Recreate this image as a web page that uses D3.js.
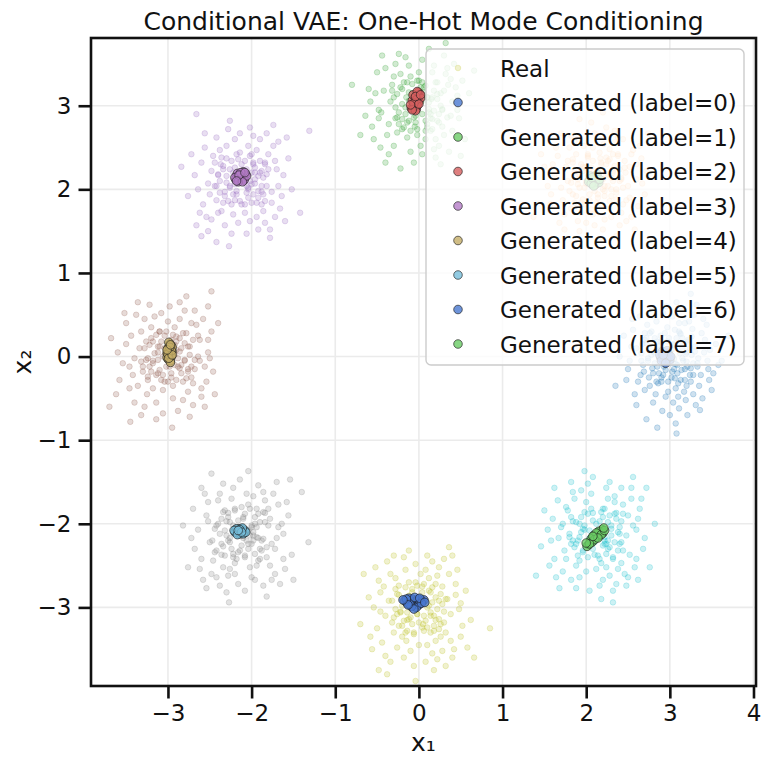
<!DOCTYPE html>
<html>
<head>
<meta charset="utf-8">
<script src="https://cdn.jsdelivr.net/npm/d3@7"></script>
<style>
  html, body { margin: 0; padding: 0; background: #fff; }
  svg { display: block; font-family: "DejaVu Sans", sans-serif; }
</style>
</head>
<body>
<svg id="chart" width="770" height="766"></svg>
<script>
// ---------------- DATA ----------------
const title = "Conditional VAE: One-Hot Mode Conditioning";
const xLabel = "x\u2081";
const yLabel = "x\u2082";
const xTicks = [-3, -2, -1, 0, 1, 2, 3, 4];
const yTicks = [-3, -2, -1, 0, 1, 2, 3];

// Real data mode centres (x1, x2) and colours (tab10 via label)
const modeCenters = [[3.0, 0.0], [2.12, 2.12], [0.0, 3.0], [-2.12, 2.12], [-3.0, 0.0], [-2.12, -2.12], [0.0, -3.0], [2.12, -2.12]];
const realColors = ["#1f77b4", "#ff7f0e", "#2ca02c", "#9467bd", "#8c564b", "#7f7f7f", "#bcbd22", "#17becf"];

// Real samples: offsets from each mode centre, in hundredths (outer spread)
const realMode0 = [[-12,8],[25,-30],[4,15],[-35,-22],[18,40],[-5,-48],[30,12],[-22,30],[9,-10],[45,-5],[-40,10],[2,-25],[15,22],[-18,-8],[28,-45],[-8,52],[38,28],[-30,-40],[11,-62],[-50,-15],[20,5],[-3,35],[52,-20],[-15,18],[7,-38],[33,-12],[-26,-2],[14,58],[-44,32],[24,-22],[-10,-30],[40,45],[0,-70],[-33,15],[19,-52],[-6,3],[27,33],[-20,-55],[48,8],[-38,-30],[12,28],[5,-15],[-16,42],[35,-35],[-48,-5],[22,18],[-2,-42],[58,-10],[-28,22],[8,65],[31,-58],[-13,-20],[42,20],[-55,25],[16,-5],[-24,-35],[3,48],[50,-40],[-9,-65],[26,2],[-36,48],[13,-28],[-19,5],[37,-22],[-1,22],[44,38],[-42,-45],[21,-70],[-7,-12],[29,50],[-31,-18],[6,32],[55,15],[-17,-45],[10,-48],[-46,12],[34,-2],[-4,60],[18,-15],[-27,38],[47,-28],[-14,-32],[23,42],[-52,-28],[1,-8],[39,-50],[-21,58],[15,10],[-34,-5],[62,-5],[-11,25],[28,-8],[-40,-58],[7,-80],[-60,0],[32,62],[-25,-25],[11,40],[46,-15],[-8,-22],[20,-35],[-30,28],[4,-55],[41,5],[-45,45],[17,-42],[70,25],[-65,-35],[25,75],[-15,-85],[-28,-75],[8,-92],[36,-64]];
const realMode1 = [[10,-14],[-28,20],[35,8],[-6,-36],[22,44],[-42,-10],[5,25],[30,-40],[-18,-28],[48,18],[-32,38],[14,-8],[-2,55],[40,-22],[-50,5],[26,30],[-12,-52],[18,-20],[-38,-42],[55,-5],[-8,12],[32,48],[-22,0],[8,-60],[44,35],[-46,28],[2,-18],[28,-55],[-15,40],[38,-8],[-28,-18],[12,62],[-55,-30],[20,10],[-4,-42],[50,-32],[-36,15],[16,36],[-20,-62],[34,22],[-10,28],[60,10],[-44,-52],[6,-30],[24,-12],[-30,52],[42,-45],[-14,-10],[9,42],[-52,18],[36,-25],[-24,30],[0,-8],[52,40],[-40,-25],[18,-45],[-6,68],[30,2],[-58,-8],[14,22],[-18,-40],[46,-60],[-34,-2],[22,58],[-8,-25],[40,15],[-26,45],[4,-72],[58,-18],[-48,38],[12,5],[-16,15],[32,-30],[-38,-60],[26,50],[-4,38],[48,0],[-30,-35],[10,-48],[-62,15],[20,30],[-12,-5],[36,-50],[-42,55],[6,18],[28,-2],[-22,-50],[54,25],[-54,-18],[16,-35],[-2,-55],[42,30],[-34,22],[24,-68],[-66,30],[70,-30],[-20,72],[8,80],[-75,-45],[62,55]];
const realMode2 = [[-15,10],[22,-18],[-30,35],[8,-40],[-45,-8],[35,25],[-5,-25],[18,48],[-38,-35],[28,-5],[-20,20],[4,55],[-52,15],[40,-30],[-10,-55],[15,8],[-28,-15],[46,12],[-2,30],[-40,45],[24,-48],[-16,-2],[32,38],[-56,-25],[10,-22],[-24,62],[38,-12],[-8,15],[20,-62],[-34,5],[52,30],[-14,-38],[6,22],[-46,-50],[30,-35],[-22,38],[12,-8],[-60,20],[42,50],[-4,-12],[26,15],[-36,-58],[16,40],[-48,-5],[2,-48],[36,-55],[-26,-32],[48,-15],[-12,48],[22,28],[-42,18],[8,-30],[-30,-48],[55,-40],[-18,28],[30,60],[-6,-68],[14,-15],[-50,40],[40,5],[-24,-8],[0,40],[-64,-12],[28,-25],[-16,58],[44,22],[-36,-22],[18,-52],[-8,2],[34,45],[-54,-40],[10,10],[-20,-28],[50,-60],[-44,60],[24,-10],[-2,-35],[60,15],[-32,25],[12,68],[-40,-68],[20,-40],[-12,-18],[38,32],[-58,5],[4,-58],[26,-70],[-28,50],[46,-5],[-10,35],[-70,-35],[66,42],[-22,-75],[32,75],[-80,25],[8,85],[-48,-15],[16,-28]];
const realMode3 = [[8,-12],[-25,18],[30,-8],[-12,-30],[18,35],[-40,-5],[4,22],[26,-38],[-30,-25],[42,12],[-18,40],[10,-50],[-48,20],[22,8],[-6,-18],[36,-28],[-28,5],[14,52],[-36,-48],[48,-20],[-2,32],[20,-22],[-44,38],[32,30],[-14,-8],[6,-65],[-52,-12],[28,20],[-20,-55],[40,-45],[-8,48],[16,-5],[-34,28],[50,5],[-24,-38],[2,10],[34,-60],[-46,-30],[12,30],[-16,60],[38,40],[-56,5],[24,-15],[-10,-42],[44,-8],[-30,50],[0,-30],[56,25],[-40,-62],[18,-45],[-22,12],[30,55],[-50,-40],[8,40],[-4,-52],[46,-35],[-32,-8],[14,18],[-26,35],[36,-15],[-60,30],[22,48],[-12,-65],[40,22],[-38,-18],[6,-8],[28,-52],[-18,25],[52,-50],[-44,55],[16,8],[-8,-25],[32,12],[-54,-55],[10,62],[-28,-40],[44,45],[-2,55],[24,-30],[-36,10],[60,-12],[-20,-15],[4,-40],[-48,-68],[34,-70],[-14,70],[20,-60],[-64,-20],[54,50],[-6,5],[26,2],[-42,-45],[12,-28],[70,-40],[-72,15],[-54,78],[81,58],[-15,-80],[38,65],[-30,-75]];
const realMode4 = [[-10,12],[24,-15],[-32,30],[6,-35],[-18,-5],[38,20],[-42,-22],[14,45],[-25,-45],[30,-32],[-4,25],[48,5],[-50,15],[18,-52],[-12,-20],[34,38],[-38,50],[10,8],[-28,-60],[44,-12],[-6,-40],[22,28],[-46,-38],[2,60],[28,-25],[-20,35],[52,30],[-54,-8],[16,-10],[-14,-55],[40,-48],[-34,10],[8,35],[-24,-28],[36,0],[-2,-12],[20,55],[-44,25],[46,-30],[-16,48],[26,12],[-58,-28],[12,-65],[-30,-12],[42,45],[-8,52],[30,-58],[-40,-55],[4,-25],[54,-18],[-22,62],[14,22],[-50,40],[38,-5],[-12,5],[24,-42],[-36,-35],[0,42],[48,20],[-26,18],[18,-30],[-60,5],[32,55],[-6,-68],[40,-38],[-46,-12],[10,18],[-18,-38],[28,40],[-32,-70],[56,-45],[-10,30],[20,-5],[-52,52],[6,-50],[36,25],[-28,45],[44,-60],[-40,-2],[14,65],[-4,-30],[26,-72],[-62,-45],[60,40],[-20,-18],[8,2],[-36,65],[32,-15],[-14,-75],[50,-2],[-68,22],[48,60],[-45,-78],[22,72],[-24,-2],[12,-12],[52,78],[-70,-60],[5,-85]];
const realMode5 = [[12,8],[-22,-15],[28,25],[-8,30],[-35,-8],[40,-18],[-14,-42],[20,-32],[-42,22],[6,48],[32,10],[-28,40],[16,-55],[-48,-30],[44,35],[-2,-20],[24,-8],[-18,15],[52,-42],[-36,-48],[8,-12],[-10,55],[36,-55],[-52,5],[18,30],[-24,-25],[48,12],[-4,-60],[30,-28],[-40,38],[14,-2],[-16,-50],[38,48],[-56,-18],[2,20],[26,-62],[-30,10],[56,22],[-8,-35],[20,58],[-46,-55],[42,-5],[-20,28],[10,-40],[-34,-32],[34,-38],[-12,42],[50,0],[-26,-62],[4,-28],[-44,48],[28,40],[-6,8],[46,-60],[-38,-10],[16,12],[-22,60],[60,-25],[-50,-42],[12,-52],[-14,-5],[32,30],[-58,30],[22,-18],[-2,65],[40,-48],[-32,-22],[8,35],[-18,-70],[54,38],[-40,15],[18,-38],[-26,48],[44,8],[-8,-48],[26,50],[-60,-5],[36,-12],[-16,25],[4,-68],[50,-30],[-30,-52],[14,45],[-48,55],[62,-55],[-10,-28],[30,-75],[-64,-40],[42,62],[-22,-40],[72,50],[-70,10],[8,75],[-36,72],[58,65],[-15,-82],[80,-10],[20,-5],[-42,-65],[34,18]];
const realMode6 = [[-8,10],[20,-15],[-28,22],[12,35],[-40,-10],[32,-30],[-15,-40],[5,-20],[44,15],[-34,40],[24,48],[-50,-25],[16,-55],[-22,-5],[38,-8],[-4,52],[28,25],[-46,18],[10,-45],[-18,-60],[50,-35],[-30,-30],[6,8],[-12,30],[36,40],[-54,0],[22,-62],[-6,-32],[42,-50],[-38,55],[14,18],[-26,-48],[48,-2],[-2,-8],[30,58],[-44,-42],[18,-28],[-16,45],[56,20],[-36,8],[8,-65],[26,-20],[-48,32],[2,40],[-20,-22],[40,-60],[-30,62],[12,2],[-58,-35],[34,10],[-10,-52],[46,45],[-24,15],[20,-40],[-40,-58],[4,25],[52,-22],[-14,-15],[28,-52],[-52,48],[16,55],[-6,-70],[38,-40],[-32,-18],[10,62],[-46,-5],[24,8],[-18,60],[58,-48],[-28,35],[0,-45],[44,28],[-56,-50],[14,-10],[-8,18],[32,-70],[-42,25],[22,38],[-20,-35],[50,5],[-34,-65],[6,-28],[40,62],[-60,12],[18,-75],[-12,68],[62,-15],[-26,-8],[30,-5],[-48,-75],[8,45],[66,-60],[-66,40],[36,72],[-38,-80],[85,-25],[-4,-88],[26,-35],[-16,-30],[-70,-20]];
const realMode7 = [[10,-8],[-18,20],[30,15],[-30,-12],[6,-35],[40,-25],[-12,38],[22,45],[-42,8],[16,-50],[-24,-38],[48,5],[-4,25],[34,-48],[-50,-30],[12,55],[-16,-20],[28,-12],[-36,32],[4,-62],[52,30],[-28,50],[20,-30],[-8,-5],[42,42],[-54,-8],[24,-60],[-20,-52],[36,-2],[-40,-45],[8,30],[46,-40],[-10,60],[-32,0],[18,10],[-46,40],[56,-18],[0,-42],[30,55],[-24,-65],[14,-18],[-52,18],[38,22],[-6,48],[26,-42],[-38,-20],[50,-55],[-14,5],[8,-55],[44,10],[-30,62],[-48,-52],[22,38],[-2,-25],[36,-62],[-58,5],[16,62],[-20,-32],[54,42],[-34,28],[4,15],[32,-20],[-44,-65],[12,-40],[-12,-45],[48,-30],[-26,42],[28,0],[-56,-38],[20,-68],[-4,68],[42,55],[-40,12],[10,-12],[-18,52],[58,-5],[-30,-55],[24,25],[-62,28],[38,-52],[-8,-68],[14,42],[-22,-8],[50,18],[-50,55],[30,-35],[-36,-30],[64,-40],[6,-78],[-66,-15],[44,68],[-14,75],[70,12],[-72,-50],[20,-82],[-28,15],[2,4],[32,35],[-45,-5],[60,55]];

// Real samples: dense cores of each mode, offsets in hundredths
const realCore0 = [[5,-3],[-8,10],[12,4],[-15,-12],[20,-6],[-3,18],[9,-20],[-22,2],[16,15],[-10,-25],[2,8],[25,-14],[-18,22],[7,-9],[-26,-5],[13,27],[-5,-16],[30,6],[-12,5],[18,-28],[-28,16],[0,-4],[22,20],[-20,-20],[10,-32],[-6,28],[28,-22],[-32,-10],[4,14],[15,-2],[-14,12],[-2,-30],[24,10],[-24,28],[8,22],[-9,-7],[33,-8],[-16,-30],[19,3],[-30,20],[3,-18],[11,30],[-21,-14],[26,24],[-7,0],[14,-16],[-34,4],[6,-26],[-11,18],[21,-12]];
const realCore1 = [[-4,6],[10,-8],[-14,14],[18,2],[-20,-10],[6,20],[-8,-18],[24,-16],[-26,8],[12,26],[2,-6],[-16,-24],[28,12],[-10,30],[16,-26],[-30,-4],[8,-12],[-4,22],[20,-2],[-18,18],[0,-28],[26,28],[-24,-20],[14,6],[-12,-2],[32,-10],[-6,14],[10,-20],[-28,24],[22,16],[4,32],[-20,4],[18,-12],[-14,-30],[6,10],[-32,-14],[30,0],[-2,-14],[12,18],[-22,-6],[8,0],[-10,26],[24,-24],[-16,10],[2,-22],[16,24],[-26,-28],[34,14],[-8,-4],[20,8]];
const realCore2 = [[3,5],[-9,-6],[14,-10],[-12,16],[8,24],[-20,2],[22,8],[-4,-20],[10,-26],[-26,-14],[18,18],[-14,28],[4,-10],[-6,12],[28,-4],[-18,-26],[12,4],[-30,10],[0,30],[24,-20],[-10,-2],[16,-16],[-22,22],[6,16],[-2,-28],[30,18],[-28,-2],[20,28],[-16,-10],[10,10],[-6,-14],[26,0],[-12,6],[14,-30],[-24,-22],[2,22],[18,-6],[-32,18],[8,-18],[-8,26],[22,14],[-20,-16],[34,-14],[-4,2],[12,-4],[-14,-20],[4,28],[-26,14],[16,10],[-10,-30]];
const realCore3 = [[4,2],[-10,8],[12,-6],[-6,-14],[16,14],[-18,-4],[8,-22],[-22,16],[20,4],[-4,24],[14,-18],[-26,-16],[2,-4],[24,-8],[-12,22],[10,28],[-16,-26],[28,18],[-28,6],[6,12],[-8,-6],[18,-28],[-20,-20],[0,18],[22,22],[-30,-8],[12,8],[-2,-26],[26,-18],[-14,12],[8,-10],[-24,26],[30,6],[-10,-18],[16,0],[-6,30],[20,-14],[-32,20],[4,-30],[-18,4],[14,20],[-8,14],[24,10],[-22,-28],[10,-2],[-14,-10],[2,10],[28,-26],[-26,-2],[6,-16]];
const realCore4 = [[-3,4],[8,-10],[-12,12],[14,6],[-18,-8],[4,20],[-6,-22],[20,-4],[-22,14],[10,24],[-10,-16],[24,12],[-26,-4],[0,-30],[16,-20],[-14,26],[6,2],[-30,-18],[28,-12],[-4,10],[12,-2],[-20,22],[18,28],[-8,-28],[22,-26],[-16,4],[2,-12],[26,2],[-24,-24],[8,14],[-2,30],[30,20],[-28,10],[14,-14],[-12,-4],[4,-20],[-18,18],[20,16],[-6,0],[10,-28],[-32,-6],[24,-18],[-10,30],[16,10],[-22,-12],[6,26],[-14,-22],[32,-4],[0,6],[-8,18]];
const realCore5 = [[2,-5],[-8,6],[12,10],[-14,-10],[18,-4],[-4,16],[8,-18],[-20,4],[22,14],[-10,-24],[4,24],[-24,-12],[16,-24],[-16,20],[26,-6],[0,-14],[-28,12],[10,30],[-6,-30],[20,24],[-18,-2],[14,2],[-2,8],[28,14],[-22,26],[6,-8],[-12,-18],[24,-20],[-30,-20],[12,-12],[-8,28],[18,8],[-26,0],[2,18],[30,-16],[-14,14],[8,4],[-4,-22],[22,-30],[-20,-26],[16,20],[-32,6],[10,-2],[-10,10],[26,26],[-16,-8],[4,-26],[-24,18],[14,-8],[0,32]];
const realCore6 = [[-4,-3],[9,8],[-12,-14],[14,-6],[-18,10],[4,18],[-8,-20],[20,12],[-22,-6],[10,-24],[-2,26],[24,-14],[-26,16],[16,24],[-14,-28],[6,-10],[28,4],[-10,6],[18,-22],[-30,-12],[2,12],[-16,24],[22,-2],[-6,-30],[12,20],[-24,-22],[30,-18],[-20,2],[8,-16],[-4,30],[26,16],[-28,-2],[14,-30],[-12,14],[0,-18],[20,28],[-18,-16],[10,0],[-8,22],[24,-26],[-32,8],[4,-24],[16,6],[-14,-6],[32,10],[-24,26],[6,28],[-10,-12],[18,-10],[-2,-8]];
const realCore7 = [[5,4],[-8,-8],[12,-12],[-14,10],[18,6],[-4,-18],[8,20],[-20,-4],[22,-10],[-10,24],[2,-26],[-24,14],[16,22],[-16,-22],[26,-20],[0,12],[-28,-8],[10,-4],[-6,30],[20,-28],[-18,2],[14,14],[-2,-10],[28,8],[-22,-26],[6,26],[-12,-14],[24,18],[-30,20],[12,-24],[-8,4],[18,-2],[-26,-16],[4,-30],[30,-10],[-14,26],[8,-14],[-4,16],[22,24],[-20,12],[16,-16],[-32,-4],[10,30],[-10,-28],[26,2],[-16,6],[2,2],[-24,-12],[14,-8],[32,24]];

const realModes = [
  realMode0.concat(realCore0), realMode1.concat(realCore1), realMode2.concat(realCore2), realMode3.concat(realCore3),
  realMode4.concat(realCore4), realMode5.concat(realCore5), realMode6.concat(realCore6), realMode7.concat(realCore7)
];

// Generated samples per conditioning label: clump centre and offsets (hundredths)
const genLabels = ["Generated (label=0)", "Generated (label=1)", "Generated (label=2)", "Generated (label=3)", "Generated (label=4)", "Generated (label=5)", "Generated (label=6)", "Generated (label=7)"];
const genColors = ["#4878CF", "#6ACC65", "#D65F5F", "#B47CC7", "#C4AD66", "#77BEDB", "#4878CF", "#6ACC65"];
const genCenters = [[2.94, 0.0], [2.09, 2.11], [-0.04, 3.04], [-2.13, 2.15], [-2.98, 0.05], [-2.14, -2.09], [-0.06, -2.93], [2.11, -2.15]];
const gen0 = [[0,0],[3,-2],[-4,3],[2,5],[-2,-4],[5,1],[-5,-1],[1,-6],[4,4],[-3,6],[6,-4],[-6,2],[0,3],[2,-3],[-1,-1],[3,7],[-4,-5],[7,0],[-2,2],[1,-8]];
const gen1 = [[0,0],[-3,2],[4,-3],[2,4],[-2,-5],[5,2],[-5,0],[1,-6],[3,5],[-4,5],[6,-3],[-6,-2],[0,4],[2,-2],[-1,1],[4,7],[-3,-4],[7,1],[-2,3],[0,-7]];
const gen2 = [[0,0],[2,4],[-2,-3],[3,8],[-3,-6],[4,1],[-1,6],[1,-8],[5,10],[-4,2],[2,-4],[-5,-7],[3,12],[0,-10],[6,5],[-3,9],[1,3],[-2,-1],[4,-2],[-4,-9],[2,13],[0,7],[-6,-3],[6,9]];
const gen3 = [[0,0],[3,2],[-3,-2],[5,-1],[-5,1],[2,4],[-2,-4],[6,3],[-6,-3],[1,-3],[-1,3],[4,-4],[-4,4],[7,1],[-7,-1],[3,6],[-3,-6],[0,5],[2,-6],[-2,2],[5,5],[-5,-5]];
const gen4 = [[0,0],[1,4],[-1,-4],[2,8],[-2,-8],[3,1],[-3,-1],[0,10],[1,-10],[-2,5],[2,-5],[3,6],[-3,-6],[-1,12],[1,-12],[2,2],[-2,-2],[0,6],[-1,-7],[3,-3],[-3,3],[1,9]];
const gen5 = [[0,0],[3,1],[-3,-1],[5,-2],[-5,2],[2,3],[-2,-3],[6,1],[-6,-1],[1,-3],[-1,3],[4,-3],[-4,3],[7,-1],[-7,1],[3,4],[-3,-4],[0,2],[2,-1],[-2,1]];
const gen6 = [[0,0],[4,1],[-4,-1],[8,2],[-8,-2],[2,-3],[-2,3],[10,0],[-11,1],[6,-4],[-6,4],[12,2],[3,-7],[-3,-6],[5,3],[-5,-3],[1,5],[9,-2],[-9,3],[0,-9],[7,4],[-7,-4],[13,-1],[-13,2]];
const gen7 = [[0,0],[3,3],[-3,-3],[6,5],[-6,-6],[8,8],[-8,-10],[2,-1],[-2,1],[5,1],[-5,-3],[9,4],[-10,-12],[4,6],[-4,-7],[1,4],[-1,-4],[7,2],[-7,-9],[11,7],[3,-2],[-3,0],[10,10],[-11,-8]];
const genOffsets = [gen0, gen1, gen2, gen3, gen4, gen5, gen6, gen7];

// ---------------- LAYOUT ----------------
const plot = { left: 91, right: 756, top: 38, bottom: 686 };
const svg = d3.select("#chart");

const x = d3.scaleLinear().domain([-3.92, 4.03]).range([plot.left, plot.right]);
const y = d3.scaleLinear().domain([-3.94, 3.81]).range([plot.bottom, plot.top]);

// grid
const grid = svg.append("g");
grid.selectAll("line.gx").data(xTicks).join("line")
  .attr("x1", d => x(d)).attr("x2", d => x(d))
  .attr("y1", plot.top).attr("y2", plot.bottom)
  .attr("stroke", "#ebebeb").attr("stroke-width", 1.6);
grid.selectAll("line.gy").data(yTicks).join("line")
  .attr("y1", d => y(d)).attr("y2", d => y(d))
  .attr("x1", plot.left).attr("x2", plot.right)
  .attr("stroke", "#ebebeb").attr("stroke-width", 1.6);

// clip
svg.append("clipPath").attr("id", "clip").append("rect")
  .attr("x", plot.left).attr("y", plot.top)
  .attr("width", plot.right - plot.left).attr("height", plot.bottom - plot.top);

const pts = svg.append("g").attr("clip-path", "url(#clip)");

// real points
const realData = [];
realModes.forEach((arr, m) => {
  arr.forEach(o => realData.push({ x: modeCenters[m][0] + o[0] / 100, y: modeCenters[m][1] + o[1] / 100, c: realColors[m] }));
});
pts.append("g").selectAll("circle").data(realData).join("circle")
  .attr("cx", d => x(d.x)).attr("cy", d => y(d.y)).attr("r", 2.8)
  .attr("fill", d => d.c).attr("fill-opacity", 0.22)
  .attr("stroke", d => d.c).attr("stroke-opacity", 0.22).attr("stroke-width", 1);

// generated points
genOffsets.forEach((arr, k) => {
  const data = arr.map(o => ({ x: genCenters[k][0] + o[0] / 100, y: genCenters[k][1] + o[1] / 100 }));
  pts.append("g").selectAll("circle").data(data).join("circle")
    .attr("cx", d => x(d.x)).attr("cy", d => y(d.y)).attr("r", 4.3)
    .attr("fill", genColors[k]).attr("fill-opacity", 0.8)
    .attr("stroke", "#1a1a1a").attr("stroke-opacity", 0.8).attr("stroke-width", 0.8);
});

// axes
const fmt = d => d < 0 ? "\u2212" + Math.abs(d) : String(d);
const xAxis = svg.append("g").attr("transform", `translate(0,${plot.bottom})`)
  .call(d3.axisBottom(x).tickValues(xTicks).tickFormat(fmt).tickSize(12.5).tickSizeOuter(0).tickPadding(6));
const yAxis = svg.append("g").attr("transform", `translate(${plot.left},0)`)
  .call(d3.axisLeft(y).tickValues(yTicks).tickFormat(fmt).tickSize(12.5).tickSizeOuter(0).tickPadding(7));
[xAxis, yAxis].forEach(a => {
  a.select(".domain").remove();
  a.selectAll(".tick line").attr("stroke", "#111").attr("stroke-width", 2.6);
  a.selectAll(".tick text").attr("fill", "#111").style("font-size", "23px").style("font-family", "DejaVu Sans");
});

// frame
svg.append("rect").attr("x", plot.left).attr("y", plot.top)
  .attr("width", plot.right - plot.left).attr("height", plot.bottom - plot.top)
  .attr("fill", "none").attr("stroke", "#111").attr("stroke-width", 2.6);

// title & labels
svg.append("text").attr("x", (plot.left + plot.right) / 2).attr("y", 30)
  .attr("text-anchor", "middle").style("font-size", "25px").attr("fill", "#111").text(title);
svg.append("text").attr("x", (plot.left + plot.right) / 2).attr("y", 751)
  .attr("text-anchor", "middle").style("font-size", "25px").attr("fill", "#111").text(xLabel);
svg.append("text").attr("transform", `translate(31,${(plot.top + plot.bottom) / 2}) rotate(-90)`)
  .attr("text-anchor", "middle").style("font-size", "25px").attr("fill", "#111").text(yLabel);

// legend
const leg = svg.append("g");
leg.append("rect").attr("x", 426).attr("y", 49).attr("width", 318).attr("height", 316)
  .attr("rx", 5).attr("fill", "#fff").attr("fill-opacity", 0.8)
  .attr("stroke", "#cccccc").attr("stroke-width", 1.4);
const legItems = [{ label: "Real", real: true, c: realColors[6] }]
  .concat(genLabels.map((l, k) => ({ label: l, real: false, c: genColors[k] })));
const rowY = i => 68 + i * 34.5;
legItems.forEach((it, i) => {
  if (it.real) {
    leg.append("circle").attr("cx", 458).attr("cy", rowY(i)).attr("r", 2.8)
      .attr("fill", it.c).attr("fill-opacity", 0.22).attr("stroke", it.c).attr("stroke-opacity", 0.22).attr("stroke-width", 1);
  } else {
    leg.append("circle").attr("cx", 458).attr("cy", rowY(i)).attr("r", 4.3)
      .attr("fill", it.c).attr("fill-opacity", 0.8).attr("stroke", "#1a1a1a").attr("stroke-opacity", 0.8).attr("stroke-width", 0.8);
  }
  leg.append("text").attr("x", 500).attr("y", rowY(i) + 8.5)
    .style("font-size", "23px").attr("fill", "#111").text(it.label);
});
</script>
</body>
</html>
